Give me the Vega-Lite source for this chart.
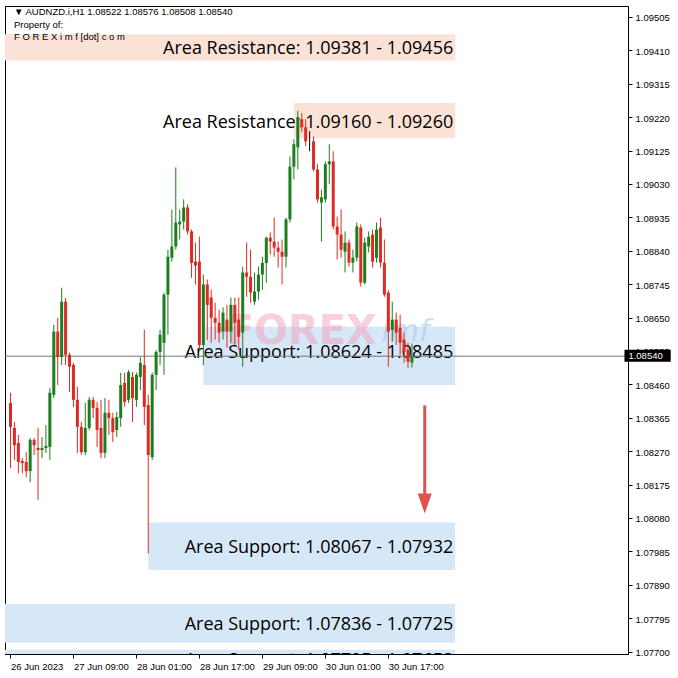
{
"$schema":"https://vega.github.io/schema/vega-lite/v6.json",
"width":623,"height":648,
"autosize":{"type":"none"},
"padding":{"left":5,"top":6,"right":50,"bottom":24},
"background":"#ffffff",
"config":{"view":{"stroke":"#000000","strokeWidth":1},"axis":{"grid":false,"labelFont":"Liberation Sans","labelFontSize":9.5,"labelColor":"#000000","tickColor":"#000000","domainColor":"#000000","tickSize":4,"labelOverlap":false}},
"layer":[
{"data":{"values":[
{"label":"Area Resistance: 1.09381 - 1.09456","kind":"resistance","start":"2023-06-26 12:00","end":"2023-07-01 10:00","upper":1.09456,"lower":1.09381,"boxLower":1.09381},
{"label":"Area Resistance: 1.09160 - 1.09260","kind":"resistance","start":"2023-06-29 17:00","end":"2023-07-01 10:00","upper":1.0926,"lower":1.0916,"boxLower":1.0916},
{"label":"Area Support: 1.08624 - 1.08485","kind":"support","start":"2023-06-28 18:00","end":"2023-07-01 10:00","upper":1.08624,"lower":1.08485,"boxLower":1.08458},
{"label":"Area Support: 1.08067 - 1.07932","kind":"support","start":"2023-06-28 04:00","end":"2023-07-01 10:00","upper":1.08067,"lower":1.07932,"boxLower":1.07932},
{"label":"Area Support: 1.07836 - 1.07725","kind":"support","start":"2023-06-26 12:00","end":"2023-07-01 10:00","upper":1.07836,"lower":1.07725,"boxLower":1.07725},
{"label":"Area Support: 1.07705 - 1.07653","kind":"support","start":"2023-06-26 12:00","end":"2023-07-01 10:00","upper":1.07705,"lower":1.07653,"boxLower":1.07653}
],"format":{"parse":{"start":"utc:'%Y-%m-%d %H:%M'","end":"utc:'%Y-%m-%d %H:%M'"}}},
"layer":[
{"mark":{"type":"rect","clip":true},
"encoding":{
"x":{"field":"start","type":"temporal","title":null,"scale":{"type":"utc","domain":[{"year":2023,"month":6,"date":26,"hours":16,"minutes":52,"seconds":30,"utc":true},{"year":2023,"month":7,"date":3,"hours":4,"minutes":37,"seconds":30,"utc":true}]}},
"x2":{"field":"end"},
"y":{"field":"upper","type":"quantitative","title":null,"scale":{"domain":[1.07693,1.09536],"zero":false,"nice":false}},
"y2":{"field":"boxLower"},
"color":{"field":"kind","type":"nominal","scale":{"domain":["resistance","support"],"range":["#fbe2d6","#d6e8f8"]},"legend":null}}},
{"transform":[{"fold":["upper","lower"],"as":["bound","price"]},{"aggregate":[{"op":"mean","field":"price","as":"mid"}],"groupby":["label","end"]}],
"mark":{"type":"text","clip":true,"align":"right","baseline":"middle","dx":-2,"dy":2,"font":"Open Sans","fontSize":18,"color":"#000000"},
"encoding":{
"x":{"field":"end","type":"temporal","title":null},
"y":{"field":"mid","type":"quantitative","title":null},
"text":{"field":"label"}}}
]},
{"data":{"values":[{}]},
"mark":{"type":"text","align":"center","baseline":"middle","font":"DejaVu Sans","fontWeight":"bold","fontSize":40,"color":"#f2a0bb","opacity":0.5},
"encoding":{"x":{"datum":{"year":2023,"month":6,"date":29,"hours":19,"utc":true},"type":"temporal"},"y":{"datum":1.0861,"type":"quantitative"},"text":{"value":"FOREX"}}},
{"data":{"values":[{}]},
"mark":{"type":"text","align":"left","baseline":"middle","font":"DejaVu Sans","fontStyle":"italic","fontSize":30,"color":"#a9cbe9","opacity":0.6},
"encoding":{"x":{"datum":{"year":2023,"month":6,"date":30,"hours":15,"minutes":15,"utc":true},"type":"temporal"},"y":{"datum":1.0861,"type":"quantitative"},"text":{"value":"imf"}}},
{"data":{"values":[{}]},
"mark":{"type":"rule","color":"#767676","strokeWidth":1},
"encoding":{"y":{"datum":1.0854,"type":"quantitative"}}},
{"data":{"values":[
{"t":"2023-06-26 17:00","o":1.08407,"h":1.08436,"l":1.08222,"c":1.08339},
{"t":"2023-06-26 18:00","o":1.08336,"h":1.08353,"l":1.08245,"c":1.08287},
{"t":"2023-06-26 19:00","o":1.08293,"h":1.08316,"l":1.08207,"c":1.08239},
{"t":"2023-06-26 20:00","o":1.08242,"h":1.0825,"l":1.08207,"c":1.08236},
{"t":"2023-06-26 21:00","o":1.08239,"h":1.08267,"l":1.08196,"c":1.08213},
{"t":"2023-06-26 22:00","o":1.08213,"h":1.08307,"l":1.08182,"c":1.08302},
{"t":"2023-06-26 23:00","o":1.08302,"h":1.08307,"l":1.08259,"c":1.08287},
{"t":"2023-06-27 00:00","o":1.08279,"h":1.08336,"l":1.08131,"c":1.08273},
{"t":"2023-06-27 01:00","o":1.08273,"h":1.0831,"l":1.0825,"c":1.08279},
{"t":"2023-06-27 02:00","o":1.08279,"h":1.08344,"l":1.08265,"c":1.08285},
{"t":"2023-06-27 03:00","o":1.08282,"h":1.0845,"l":1.08245,"c":1.08436},
{"t":"2023-06-27 04:00","o":1.0843,"h":1.08629,"l":1.08421,"c":1.0861},
{"t":"2023-06-27 05:00","o":1.0861,"h":1.08649,"l":1.08458,"c":1.08538},
{"t":"2023-06-27 06:00","o":1.08538,"h":1.08735,"l":1.08515,"c":1.08695},
{"t":"2023-06-27 07:00","o":1.08695,"h":1.08706,"l":1.08515,"c":1.08544},
{"t":"2023-06-27 08:00","o":1.08544,"h":1.0855,"l":1.08438,"c":1.0851},
{"t":"2023-06-27 09:00","o":1.08515,"h":1.08521,"l":1.08396,"c":1.08416},
{"t":"2023-06-27 10:00","o":1.08416,"h":1.08453,"l":1.08265,"c":1.08339},
{"t":"2023-06-27 11:00","o":1.08339,"h":1.08353,"l":1.08259,"c":1.08267},
{"t":"2023-06-27 12:00","o":1.08267,"h":1.08407,"l":1.08259,"c":1.08336},
{"t":"2023-06-27 13:00","o":1.08336,"h":1.08424,"l":1.0833,"c":1.08416},
{"t":"2023-06-27 14:00","o":1.08416,"h":1.08424,"l":1.08364,"c":1.08393},
{"t":"2023-06-27 15:00","o":1.08393,"h":1.0841,"l":1.08282,"c":1.0833},
{"t":"2023-06-27 16:00","o":1.08336,"h":1.08416,"l":1.0825,"c":1.08265},
{"t":"2023-06-27 17:00","o":1.08265,"h":1.08421,"l":1.0825,"c":1.08379},
{"t":"2023-06-27 18:00","o":1.08379,"h":1.08416,"l":1.08316,"c":1.08364},
{"t":"2023-06-27 19:00","o":1.08364,"h":1.08379,"l":1.08296,"c":1.08324},
{"t":"2023-06-27 20:00","o":1.0833,"h":1.08381,"l":1.0831,"c":1.08367},
{"t":"2023-06-27 21:00","o":1.08364,"h":1.08493,"l":1.08339,"c":1.08458},
{"t":"2023-06-27 22:00","o":1.08464,"h":1.08493,"l":1.08396,"c":1.0841},
{"t":"2023-06-27 23:00","o":1.08416,"h":1.08501,"l":1.08407,"c":1.08495},
{"t":"2023-06-28 00:00","o":1.08481,"h":1.08495,"l":1.08353,"c":1.08421},
{"t":"2023-06-28 01:00","o":1.08416,"h":1.08493,"l":1.08396,"c":1.08487},
{"t":"2023-06-28 02:00","o":1.08481,"h":1.08538,"l":1.08444,"c":1.08521},
{"t":"2023-06-28 03:00","o":1.08515,"h":1.08615,"l":1.08344,"c":1.08396},
{"t":"2023-06-28 04:00","o":1.08401,"h":1.0843,"l":1.07979,"c":1.08259},
{"t":"2023-06-28 05:00","o":1.08253,"h":1.08493,"l":1.08245,"c":1.08487},
{"t":"2023-06-28 06:00","o":1.08487,"h":1.08558,"l":1.08444,"c":1.08552},
{"t":"2023-06-28 07:00","o":1.08552,"h":1.08615,"l":1.08515,"c":1.08601},
{"t":"2023-06-28 08:00","o":1.08578,"h":1.08721,"l":1.08487,"c":1.08715},
{"t":"2023-06-28 09:00","o":1.08715,"h":1.08843,"l":1.08601,"c":1.08823},
{"t":"2023-06-28 10:00","o":1.0882,"h":1.08957,"l":1.08809,"c":1.08852},
{"t":"2023-06-28 11:00","o":1.08852,"h":1.09077,"l":1.08843,"c":1.0892},
{"t":"2023-06-28 12:00","o":1.08915,"h":1.08957,"l":1.08872,"c":1.08923},
{"t":"2023-06-28 13:00","o":1.08923,"h":1.08986,"l":1.089,"c":1.08963},
{"t":"2023-06-28 14:00","o":1.08963,"h":1.08972,"l":1.08886,"c":1.08895},
{"t":"2023-06-28 15:00","o":1.08895,"h":1.089,"l":1.08763,"c":1.08805},
{"t":"2023-06-28 16:00","o":1.08809,"h":1.08863,"l":1.08744,"c":1.08798},
{"t":"2023-06-28 17:00","o":1.08809,"h":1.0888,"l":1.08558,"c":1.08572},
{"t":"2023-06-28 18:00","o":1.08572,"h":1.08772,"l":1.08515,"c":1.08744},
{"t":"2023-06-28 19:00","o":1.08744,"h":1.08758,"l":1.08587,"c":1.08686},
{"t":"2023-06-28 20:00","o":1.08707,"h":1.08729,"l":1.08578,"c":1.08649},
{"t":"2023-06-28 21:00","o":1.08649,"h":1.08692,"l":1.08587,"c":1.08635},
{"t":"2023-06-28 22:00","o":1.08635,"h":1.08672,"l":1.08578,"c":1.08607},
{"t":"2023-06-28 23:00","o":1.0861,"h":1.08679,"l":1.08587,"c":1.08664},
{"t":"2023-06-29 00:00","o":1.08644,"h":1.08686,"l":1.08564,"c":1.0861},
{"t":"2023-06-29 01:00","o":1.0861,"h":1.08707,"l":1.08578,"c":1.08686},
{"t":"2023-06-29 02:00","o":1.08686,"h":1.08706,"l":1.08572,"c":1.08635},
{"t":"2023-06-29 03:00","o":1.08644,"h":1.08707,"l":1.08558,"c":1.08595},
{"t":"2023-06-29 04:00","o":1.08607,"h":1.08795,"l":1.0851,"c":1.08778},
{"t":"2023-06-29 05:00","o":1.08778,"h":1.08863,"l":1.08709,"c":1.08766},
{"t":"2023-06-29 06:00","o":1.08766,"h":1.08843,"l":1.08692,"c":1.08721},
{"t":"2023-06-29 07:00","o":1.08695,"h":1.08778,"l":1.08686,"c":1.08724},
{"t":"2023-06-29 08:00","o":1.08724,"h":1.08795,"l":1.08701,"c":1.08772},
{"t":"2023-06-29 09:00","o":1.08772,"h":1.08823,"l":1.08729,"c":1.08805},
{"t":"2023-06-29 10:00","o":1.08805,"h":1.0888,"l":1.08749,"c":1.08877},
{"t":"2023-06-29 11:00","o":1.08877,"h":1.08892,"l":1.08829,"c":1.08866},
{"t":"2023-06-29 12:00","o":1.08866,"h":1.08934,"l":1.08823,"c":1.08849},
{"t":"2023-06-29 13:00","o":1.08849,"h":1.08866,"l":1.08792,"c":1.08837},
{"t":"2023-06-29 14:00","o":1.08837,"h":1.08872,"l":1.08744,"c":1.08823},
{"t":"2023-06-29 15:00","o":1.08823,"h":1.08934,"l":1.08792,"c":1.08929},
{"t":"2023-06-29 16:00","o":1.08929,"h":1.09108,"l":1.0892,"c":1.09079},
{"t":"2023-06-29 17:00","o":1.09079,"h":1.09157,"l":1.09043,"c":1.09143},
{"t":"2023-06-29 18:00","o":1.09134,"h":1.09238,"l":1.09071,"c":1.0922},
{"t":"2023-06-29 19:00","o":1.09214,"h":1.09231,"l":1.09177,"c":1.09191},
{"t":"2023-06-29 20:00","o":1.09191,"h":1.09214,"l":1.09137,"c":1.09151},
{"t":"2023-06-29 21:00","o":1.09151,"h":1.0918,"l":1.09123,"c":1.09151},
{"t":"2023-06-29 22:00","o":1.09151,"h":1.09165,"l":1.09066,"c":1.09071},
{"t":"2023-06-29 23:00","o":1.09071,"h":1.09086,"l":1.08977,"c":1.08986},
{"t":"2023-06-30 00:00","o":1.08977,"h":1.09014,"l":1.08866,"c":1.08992},
{"t":"2023-06-30 01:00","o":1.08986,"h":1.09094,"l":1.08977,"c":1.09086},
{"t":"2023-06-30 02:00","o":1.09086,"h":1.09143,"l":1.09029,"c":1.09094},
{"t":"2023-06-30 03:00","o":1.09094,"h":1.09123,"l":1.089,"c":1.08909},
{"t":"2023-06-30 04:00","o":1.08909,"h":1.08937,"l":1.08815,"c":1.08886},
{"t":"2023-06-30 05:00","o":1.08886,"h":1.08957,"l":1.0882,"c":1.08843},
{"t":"2023-06-30 06:00","o":1.08837,"h":1.08895,"l":1.08778,"c":1.08863},
{"t":"2023-06-30 07:00","o":1.08863,"h":1.08872,"l":1.08795,"c":1.08806},
{"t":"2023-06-30 08:00","o":1.08806,"h":1.08843,"l":1.08778,"c":1.0882},
{"t":"2023-06-30 09:00","o":1.0882,"h":1.0892,"l":1.08809,"c":1.08909},
{"t":"2023-06-30 10:00","o":1.08906,"h":1.08915,"l":1.08738,"c":1.08749},
{"t":"2023-06-30 11:00","o":1.08749,"h":1.08877,"l":1.08744,"c":1.08863},
{"t":"2023-06-30 12:00","o":1.08852,"h":1.08895,"l":1.08835,"c":1.0888},
{"t":"2023-06-30 13:00","o":1.08886,"h":1.089,"l":1.08792,"c":1.08809},
{"t":"2023-06-30 14:00","o":1.0882,"h":1.0892,"l":1.08806,"c":1.089},
{"t":"2023-06-30 15:00","o":1.08906,"h":1.08934,"l":1.08792,"c":1.08806},
{"t":"2023-06-30 16:00","o":1.08806,"h":1.08872,"l":1.08709,"c":1.08715},
{"t":"2023-06-30 17:00","o":1.08721,"h":1.08729,"l":1.0851,"c":1.0861},
{"t":"2023-06-30 18:00","o":1.08615,"h":1.08695,"l":1.08581,"c":1.08644},
{"t":"2023-06-30 19:00","o":1.08644,"h":1.08664,"l":1.08572,"c":1.08607},
{"t":"2023-06-30 20:00","o":1.08621,"h":1.08658,"l":1.08544,"c":1.08578},
{"t":"2023-06-30 21:00","o":1.08587,"h":1.08607,"l":1.08521,"c":1.08552},
{"t":"2023-06-30 22:00","o":1.08558,"h":1.08578,"l":1.08507,"c":1.08524},
{"t":"2023-06-30 23:00","o":1.08522,"h":1.08576,"l":1.08508,"c":1.0854}
],"format":{"parse":{"t":"utc:'%Y-%m-%d %H:%M'"}}},
"encoding":{
"x":{"field":"t","type":"temporal","title":null,"axis":{"orient":"bottom","title":null,"tickCount":30,"values":[{"year":2023,"month":6,"date":26,"hours":17,"utc":true},{"year":2023,"month":6,"date":27,"hours":9,"utc":true},{"year":2023,"month":6,"date":28,"hours":1,"utc":true},{"year":2023,"month":6,"date":28,"hours":17,"utc":true},{"year":2023,"month":6,"date":29,"hours":9,"utc":true},{"year":2023,"month":6,"date":30,"hours":1,"utc":true},{"year":2023,"month":6,"date":30,"hours":17,"utc":true}],"labelExpr":"utcdate(datum.value) == 26 ? '26 Jun 2023' : utcFormat(datum.value, '%d %b %H:%M')","labelAlign":"left","labelPadding":3,"labelOverlap":false,"labelFlush":false,"tickSize":4}},
"color":{"condition":[{"test":"datum.c == datum.o","value":"#000000"},{"test":"datum.c > datum.o","value":"#1e7d1e"}],"value":"#dd2a22"}},
"layer":[
{"mark":{"type":"rule","strokeWidth":1},
"encoding":{"y":{"field":"l","type":"quantitative","title":null,"axis":{"orient":"right","title":null,"tickCount":40,"values":[1.09505,1.0941,1.09315,1.0922,1.09125,1.0903,1.08935,1.0884,1.08745,1.0865,1.08555,1.0846,1.08365,1.0827,1.08175,1.0808,1.07985,1.0789,1.07795,1.077],"format":".5f","labelPadding":3,"labelOverlap":false,"labelBound":false,"labelOffset":1,"tickSize":4}},"y2":{"field":"h"}}},
{"mark":{"type":"bar","width":3},
"encoding":{"y":{"field":"o","type":"quantitative","title":null},"y2":{"field":"c"}}}
]},
{"data":{"values":[{}]},
"mark":{"type":"rule","color":"#e0534d","strokeWidth":3},
"encoding":{"x":{"datum":{"year":2023,"month":7,"date":1,"hours":2,"minutes":15,"utc":true},"type":"temporal"},"y":{"datum":1.084,"type":"quantitative"},"y2":{"datum":1.0814}}},
{"data":{"values":[{}]},
"mark":{"type":"point","shape":"M-0.7,-1L0.7,-1L0,1Z","size":400,"filled":true,"color":"#e0534d","opacity":1},
"encoding":{"x":{"datum":{"year":2023,"month":7,"date":1,"hours":2,"minutes":15,"utc":true},"type":"temporal"},"y":{"datum":1.08121,"type":"quantitative"}}},
{"data":{"values":[{}]},
"mark":{"type":"text","text":["▼ AUDNZD.i,H1  1.08522 1.08576 1.08508 1.08540","Property of:","F O R E X i m f [dot] c o m"],"align":"left","baseline":"top","font":"Liberation Sans","fontSize":9.5,"lineHeight":12.5,"color":"#000000","dx":4},
"encoding":{"x":{"datum":{"year":2023,"month":6,"date":26,"hours":16,"minutes":52,"seconds":30,"utc":true},"type":"temporal"},"y":{"datum":1.09533,"type":"quantitative"}}},
{"data":{"values":[{}]},
"mark":{"type":"rect","color":"#000000"},
"encoding":{"x":{"datum":{"year":2023,"month":7,"date":3,"hours":5,"utc":true},"type":"temporal"},"x2":{"datum":{"year":2023,"month":7,"date":3,"hours":16,"minutes":45,"utc":true}},"y":{"datum":1.08558,"type":"quantitative"},"y2":{"datum":1.08524}}},
{"data":{"values":[{}]},
"mark":{"type":"text","align":"left","baseline":"middle","font":"Liberation Sans","fontSize":9.5,"color":"#ffffff"},
"encoding":{"x":{"datum":{"year":2023,"month":7,"date":3,"hours":6,"utc":true},"type":"temporal"},"y":{"datum":1.0854,"type":"quantitative"},"text":{"value":"1.08540"}}}
]
}
